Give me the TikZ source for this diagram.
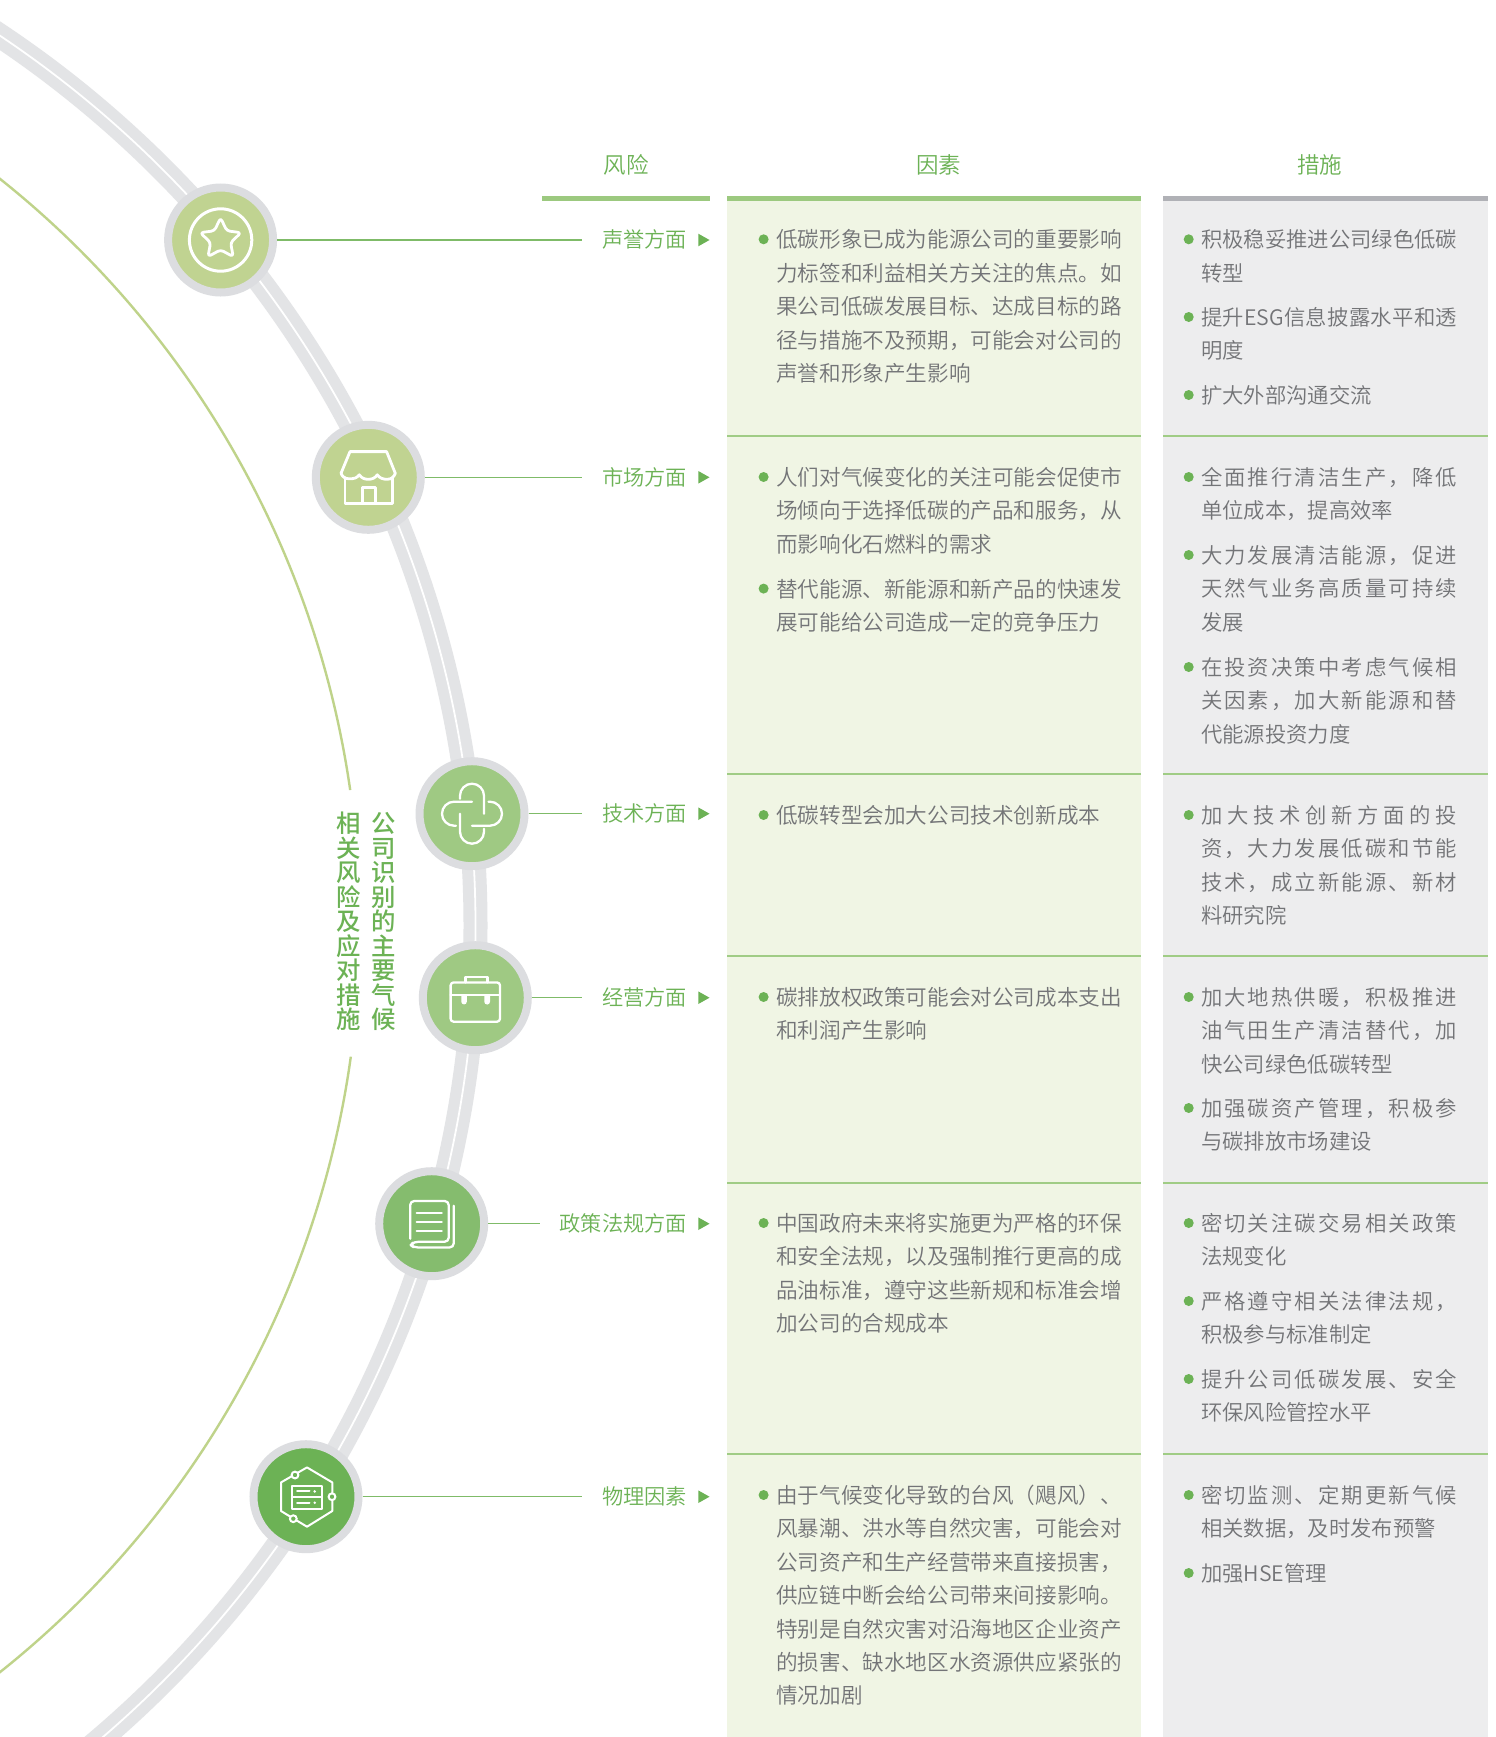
\documentclass[tikz,border=0pt]{standalone}
\usepackage{fontspec}
\setmainfont{Noto Sans CJK SC DemiLight}
\newfontfamily\cjr{Noto Sans CJK SC Medium}
\definecolor{gtext}{HTML}{6CB255}
\definecolor{btext}{HTML}{737477}
\definecolor{band}{HTML}{E3E4E6}
\definecolor{ringc}{HTML}{DCDDE0}
\definecolor{thincol}{HTML}{BFD38A}
\definecolor{bgf}{HTML}{F0F5E4}
\definecolor{bgm}{HTML}{EDEDEE}
\definecolor{barg}{HTML}{9CC97F}
\definecolor{barm}{HTML}{B0B1B6}
\definecolor{sepc}{HTML}{A0CC85}
\definecolor{ca}{HTML}{C0D391}
\definecolor{cb}{HTML}{9FC983}
\definecolor{cc}{HTML}{85BC6E}
\definecolor{cd}{HTML}{6CB255}
\definecolor{leadc}{HTML}{7FBB68}
\makeatletter
\newcommand\J[1]{\leavevmode\hbox to\hsize{\@tfor\jc:=#1\do{\jc\hfil}\unskip}\par}
\makeatother
\tikzset{
  hub/.style={circle,draw=ringc,line width=8pt,minimum size=105pt,inner sep=0pt,outer sep=4pt},
  lead/.style={draw=leadc,line width=1.3pt},
  risk/.style={anchor=base east,inner sep=0pt,text=gtext,font=\fontsize{21.2}{26}\selectfont},
  head/.style={inner sep=0pt,text=gtext,font=\fontsize{22.5}{26}\selectfont},
  ftext/.style={anchor=base west,inner sep=0pt,text=btext,text width=345.5pt,align=left,font=\fontsize{21.6}{33.4}\selectfont},
  mtext/.style={anchor=base west,inner sep=0pt,text=btext,text width=256pt,align=left,font=\fontsize{21.35}{33.4}\selectfont},
  icon/.style={draw=white,line width=2.3pt,line cap=round,line join=round,fill=none},
  vtext/.style={inner sep=0pt,text=gtext,align=center,font=\cjr\fontsize{24.4}{24.5}\selectfont},
  tri/.style={fill=gtext},
  dot/.style={fill=gtext},
}
\newcommand\fac[3]{\fill[dot] (763.6,-#2) circle (5);\node[ftext] (#1) at (776,-#2-8.5) {#3};}
\newcommand\mea[3]{\fill[dot] (1188.7,-#2) circle (5);\node[mtext] (#1) at (1200.8,-#2-8.5) {#3};}
\newcommand\riskrow[5]{% name, hub, y, text, lead end x
  \coordinate (e#1) at (#5,-#3);
  \draw[lead] (#2.east) -- (e#1);
  \node[risk] (r#1) at (687,-#3-7.7) {#4};
  \fill[tri] (698.3,-#3+6.3) -- (709.5,-#3) -- (698.3,-#3-6.3) -- cycle;}
\begin{document}
\begin{tikzpicture}[x=1pt,y=1pt]
\useasboundingbox (0,0) rectangle (1496,-1737);
\fill[white] (0,0) rectangle (1496,-1737);
\begin{scope}
\clip (0,0) rectangle (1496,-1737);
\draw[band,line width=24pt] (-594.5,-925.5) circle (1070);
\draw[white,line width=1.8pt] (-594.5,-925.5) circle (1070);
\draw[thincol,line width=2.4pt] ([shift={(-594.5,-925.5)}]8.16:954.4) arc (8.16:60:954.4);
\draw[thincol,line width=2.4pt] ([shift={(-594.5,-925.5)}]-7.9:954.4) arc (-7.9:-60:954.4);
\end{scope}
% columns
\fill[bgf] (726.5,-201) rectangle (1141,-1737);
\fill[bgm] (1163,-201) rectangle (1487.5,-1737);
\fill[barg] (541.8,-195.5) rectangle (709.8,-201);
\fill[barg] (726.5,-195.5) rectangle (1141,-201);
\fill[barm] (1163,-195.5) rectangle (1487.5,-201);
\foreach \yy in {435.8,773.8,955.5,1182.5,1453.8}{
  \fill[sepc] (726.5,-\yy-1) rectangle (1141,-\yy+1);
  \fill[sepc] (1163,-\yy-1) rectangle (1487.5,-\yy+1);
}
\node[head] (h1) at (626,-164.6) {风险};
\node[head] (h2) at (938.5,-164.6) {因素};
\node[head] (h3) at (1319.6,-164.6) {措施};
% hubs
\node[hub,fill=ca] (c1) at (220.6,-240) {};
\node[hub,fill=ca] (c2) at (368.3,-477.3) {};
\node[hub,fill=cb] (c3) at (472,-813.7) {};
\node[hub,fill=cb] (c4) at (475.3,-997.7) {};
\node[hub,fill=cc] (c5) at (431.7,-1223.7) {};
\node[hub,fill=cd] (c6) at (306,-1496.7) {};
\riskrow{a}{c1}{240}{声誉方面}{582}
\riskrow{b}{c2}{477.3}{市场方面}{582}
\riskrow{c}{c3}{813.7}{技术方面}{582}
\riskrow{d}{c4}{997.7}{经营方面}{582}
\riskrow{e}{c5}{1223.7}{政策法规方面}{540}
\riskrow{f}{c6}{1496.7}{物理因素}{582}
% icon: star
\begin{scope}[shift={(c1.center)}]
\draw[icon,line width=3pt] (0,0) circle (31.2);
\end{scope}
\begin{scope}[shift={(220.6,-239.3)}]
\draw[icon,line width=2.8pt,rounded corners=3.2pt] (90:21.5) -- (126:10.5) -- (162:21.5) -- (198:10.5) -- (234:21.5) -- (270:10.5) -- (306:21.5) -- (342:10.5) -- (18:21.5) -- (54:10.5) -- cycle;
\end{scope}
% icon: shop
\begin{scope}[shift={(c2.center)}]
\draw[icon,line width=2.8pt] (-27.3,4) -- (-18.3,25.7) -- (18.3,25.7) -- (27,4);
\draw[icon,line width=2.8pt] (-27.3,4) to[out=-70,in=180] (-19,-1.5) to[out=0,in=-125] (-9,2.5) to[out=-55,in=180] (0,-2) to[out=0,in=-125] (9,2.5) to[out=-55,in=180] (19,-2) to[out=0,in=-110] (27,4);
\draw[icon,line width=2.8pt] (-23.3,-0.3) -- (-23.3,-26) -- (24.3,-26) -- (24.3,-0.3);
\draw[icon,line width=2.8pt] (-6,-26) -- (-6,-10.3) -- (7.3,-10.3) -- (7.3,-26);
\end{scope}
% icon: knot
\begin{scope}[shift={(c3.center)}]
\draw[icon] (-12,15) -- (-12,18) arc (180:0:12) -- (12,0);
\draw[icon] (0,12) -- (-18,12) arc (90:270:12) -- (-16,-12);
\draw[icon] (0,-12) -- (18,-12) arc (-90:90:12) -- (16.5,12);
\draw[icon] (-12,0) -- (-12,-18) arc (180:360:12) -- (12,-15);
\end{scope}
% icon: briefcase
\begin{scope}[shift={(c4.center)}]
\draw[icon,rounded corners=3pt] (-24.7,-24) rectangle (24.7,15.3);
\draw[icon] (-24.7,3) -- (24.7,3);
\draw[icon] (-9.7,15.3) -- (-9.7,21) -- (12.3,21) -- (12.3,15.3);
\fill[white] (-14,3) -- (-8.5,3) -- (-8.5,-4) arc (0:-180:2.75) -- cycle;
\fill[white] (9,3) -- (14.7,3) -- (14.7,-4) arc (0:-180:2.85) -- cycle;
\end{scope}
% icon: document
\begin{scope}[shift={(c5.center)}]
\draw[icon,rounded corners=4pt] (-21.5,-15) -- (-21.5,22.7) -- (17,22.7) -- (17,-18) -- (-17,-18) -- (-21.5,-21) -- (-18,-23.7) -- (22,-23.7) -- (22,18);
\draw[icon] (-15,11) -- (10,11);
\draw[icon] (-15,2) -- (10,2);
\draw[icon] (-15,-7) -- (10,-7);
\end{scope}
% icon: hexagon
\begin{scope}[shift={(c6.center)}]
\draw[icon,line width=2pt] (1,29.3) -- (26.3,14.3) -- (26.3,-14.3) -- (1,-30) -- (-25,-14.3) -- (-25,14.3) -- cycle;
\filldraw[draw=white,fill=cd,line width=2pt] (-11,21.7) circle (3.4);
\filldraw[draw=white,fill=cd,line width=2pt] (26,0) circle (3.4);
\filldraw[draw=white,fill=cd,line width=2pt] (-12.7,-22) circle (3.4);
\draw[icon,line width=2pt] (-14,11) rectangle (15.7,-12.3);
\draw[icon,line width=2pt] (-14,-0.7) -- (15.7,-0.7);
\draw[icon,line width=2pt] (-9,5.3) -- (3.5,5.3);
\draw[icon,line width=2pt] (-9,-6) -- (3.5,-6);
\fill[white] (8.7,5.3) circle (1.4);
\fill[white] (8.7,-6) circle (1.4);
\end{scope}
% vertical title
\node[vtext] (v1) at (383.3,-921.5) {公\\司\\识\\别\\的\\主\\要\\气\\候};
\node[vtext] (v2) at (348.7,-921.5) {相\\关\\风\\险\\及\\应\\对\\措\\施};
% factors
\fac{f1}{239.3}{\J{低碳形象已成为能源公司的重要影响}\J{力标签和利益相关方关注的焦点。如}\J{果公司低碳发展目标、达成目标的路}\J{径与措施不及预期，可能会对公司的}声誉和形象产生影响}
\fac{f2}{477}{\J{人们对气候变化的关注可能会促使市}\J{场倾向于选择低碳的产品和服务，从}而影响化石燃料的需求}
\fac{f3}{588.6}{\J{替代能源、新能源和新产品的快速发}展可能给公司造成一定的竞争压力}
\fac{f4}{815}{低碳转型会加大公司技术创新成本}
\fac{f5}{997}{\J{碳排放权政策可能会对公司成本支出}和利润产生影响}
\fac{f6}{1223}{\J{中国政府未来将实施更为严格的环保}\J{和安全法规，以及强制推行更高的成}\J{品油标准，遵守这些新规和标准会增}加公司的合规成本}
\fac{f7}{1495}{\J{由于气候变化导致的台风（飓风）、}\J{风暴潮、洪水等自然灾害，可能会对}\J{公司资产和生产经营带来直接损害，}\J{供应链中断会给公司带来间接影响。}\J{特别是自然灾害对沿海地区企业资产}\J{的损害、缺水地区水资源供应紧张的}情况加剧}
% measures
\mea{m1}{239.3}{\J{积极稳妥推进公司绿色低碳}转型}
\mea{m2}{317}{\J{提升{ESG}信息披露水平和透}明度}
\mea{m3}{395}{扩大外部沟通交流}
\mea{m4}{477}{\J{全面推行清洁生产，降低}单位成本，提高效率}
\mea{m5}{555}{\J{大力发展清洁能源，促进}\J{天然气业务高质量可持续}发展}
\mea{m6}{667}{\J{在投资决策中考虑气候相}\J{关因素，加大新能源和替}代能源投资力度}
\mea{m7}{815}{\J{加大技术创新方面的投}\J{资，大力发展低碳和节能}\J{技术，成立新能源、新材}料研究院}
\mea{m8}{997}{\J{加大地热供暖，积极推进}\J{油气田生产清洁替代，加}快公司绿色低碳转型}
\mea{m9}{1108}{\J{加强碳资产管理，积极参}与碳排放市场建设}
\mea{m10}{1223}{\J{密切关注碳交易相关政策}法规变化}
\mea{m11}{1301}{\J{严格遵守相关法律法规，}积极参与标准制定}
\mea{m12}{1379}{\J{提升公司低碳发展、安全}环保风险管控水平}
\mea{m13}{1495}{\J{密切监测、定期更新气候}相关数据，及时发布预警}
\mea{m14}{1573}{加强HSE管理}
\end{tikzpicture}
\end{document}
